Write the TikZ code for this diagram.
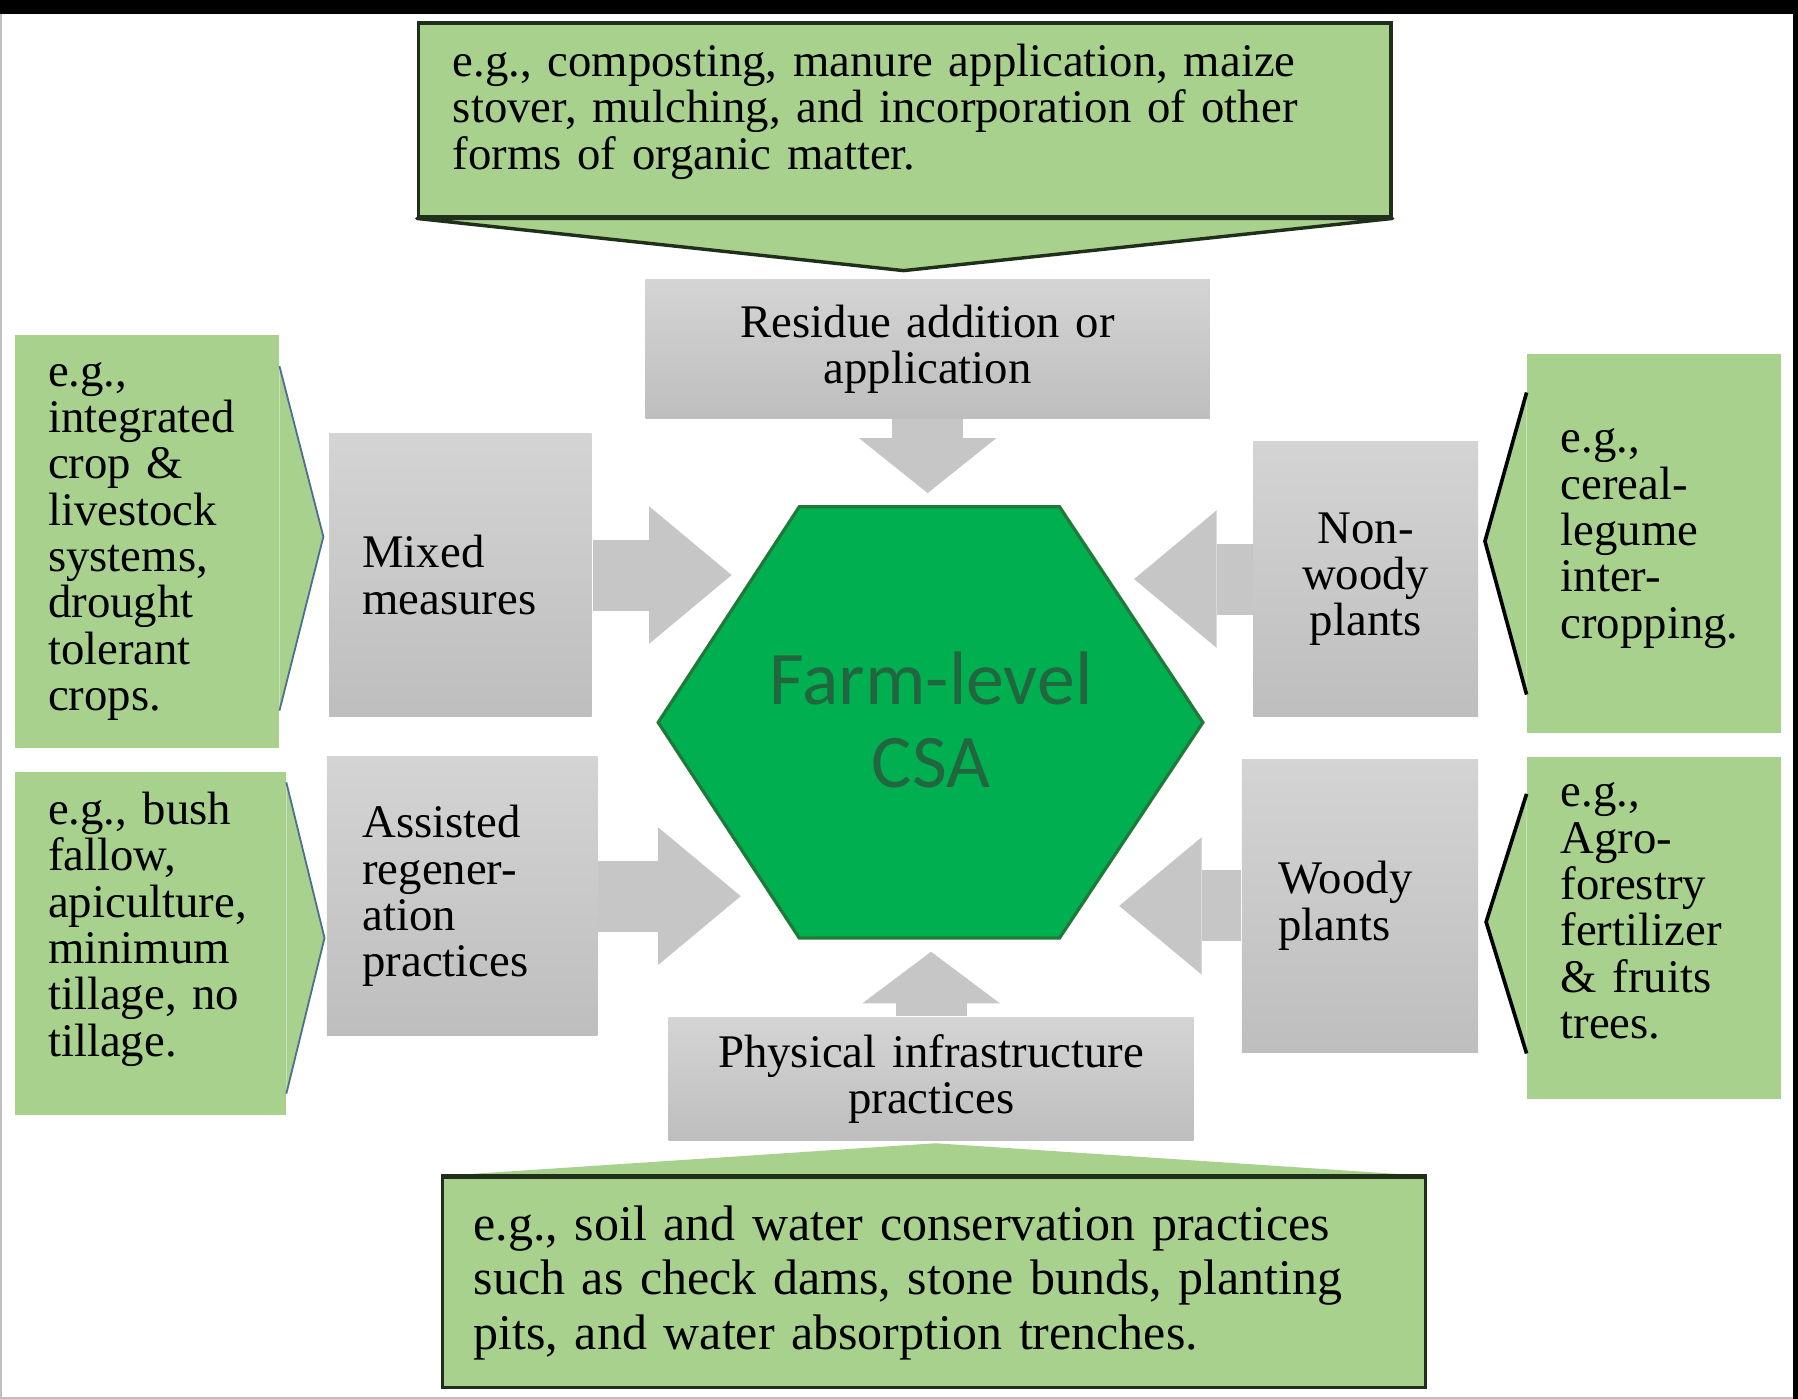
\documentclass[tikz,border=0pt]{standalone}
\usepackage{fontspec}
\setmainfont{Liberation Serif}
\newfontfamily\csafont{Carlito}
\usetikzlibrary{arrows.meta}
\definecolor{notegreen}{HTML}{A9D18E}
\definecolor{noteline}{HTML}{1F2F1A}
\definecolor{pinline}{HTML}{4F6F8F}
\definecolor{boxtop}{HTML}{D4D4D4}
\definecolor{boxbottom}{HTML}{BEBEBE}
\definecolor{arrowgrey}{HTML}{C6C6C6}
\definecolor{csagreen}{HTML}{00B050}
\definecolor{csaedge}{HTML}{1F7A3A}
\definecolor{csatext}{HTML}{22663F}

\tikzset{
  txt/.style={font=\fontsize{11.6}{11.5}\selectfont},
  greybox/.style={rectangle, top color=boxtop, bottom color=boxbottom, inner sep=0pt, txt},
  note/.style={rectangle, fill=notegreen, inner sep=0pt, align=left, txt},
  bigarrow/.style={draw=arrowgrey, line width=0.62cm,
    -{Triangle[length=#1, width=1.2cm, line width=0pt]}},
  bigarrow/.default=0.72cm
}

\begin{document}
\begin{tikzpicture}
  % page frame
  \useasboundingbox (0,0) rectangle (15.68,12.20);
  \fill[white] (0,0) rectangle (15.68,12.20);
  \draw[black!25, line width=0.6pt] (0.01,12.1) -- (0.01,0.01) -- (15.64,0.01);
  \fill[black] (0,12.08) rectangle (15.68,12.20);
  \fill[black] (15.64,0) rectangle (15.68,12.20);

  % centre hexagon
  \filldraw[fill=csagreen, draw=csaedge, line width=0.8pt]
    (5.74,5.90) -- (6.97,7.78) -- (9.24,7.78) -- (10.49,5.90)
    -- (9.24,4.02) -- (6.97,4.02) -- cycle;
  \node[font=\csafont\fontsize{18.8}{20.5}\selectfont, text=csatext, align=center]
    (csa) at (8.12,5.92) {Farm-level\\CSA};

  % practice boxes
  \node[greybox, minimum width=4.92cm, minimum height=1.21cm, text width=4.5cm,
        align=center] (residue) at (8.09,9.155) {Residue addition or\\application};
  \node[greybox, minimum width=2.29cm, minimum height=2.47cm, text width=1.71cm,
        align=left] (mixed) at (4.015,7.185) {Mixed\\measures};
  \node[greybox, minimum width=2.36cm, minimum height=2.43cm, text width=1.74cm,
        align=left] (assisted) at (4.03,4.385) {Assisted\\regener-\\ation\\practices};
  \node[greybox, minimum width=1.96cm, minimum height=2.40cm, text width=1.6cm,
        align=center] (nonwoody) at (11.91,7.15) {Non-\\woody\\plants};
  \node[greybox, minimum width=2.06cm, minimum height=2.56cm, text width=1.42cm,
        align=left] (woody) at (11.86,4.30) {Woody\\plants};
  \node[greybox, minimum width=4.58cm, minimum height=1.08cm, text width=4.2cm,
        align=center] (physical) at (8.12,2.79) {Physical infrastructure\\practices};

  % arrow tips next to the hexagon
  \coordinate (residue tip) at (8.09,7.90);
  \coordinate (mixed tip) at (6.38,7.185);
  \coordinate (assisted tip) at (6.46,4.385);
  \coordinate (nonwoody tip) at (9.89,7.15);
  \coordinate (woody tip) at (9.76,4.30);
  \coordinate (physical tip) at (8.12,3.90);

  \draw[bigarrow=0.48cm] (residue.south) -- (residue tip);
  \draw[bigarrow] (mixed.east) -- (mixed tip);
  \draw[bigarrow] (assisted.east) -- (assisted tip);
  \draw[bigarrow] (nonwoody.west) -- (nonwoody tip);
  \draw[bigarrow] (woody.west) -- (woody tip);
  \draw[bigarrow=0.45cm] (physical.north) -- (physical tip);

  % example callouts
  \node[note, draw=noteline, line width=0.85pt, minimum width=8.48cm,
        minimum height=1.69cm, text width=7.88cm, text depth=29.5pt]
    (topnote) at (7.89,11.155)
    {e.g., composting, manure application, maize\\
     stover, mulching, and incorporation of other\\
     forms of organic matter.};
  \node[note, minimum width=2.30cm, minimum height=3.60cm, text width=1.72cm]
    (note1) at (1.28,7.48)
    {e.g.,\\integrated\\crop \&\\livestock\\systems,\\drought\\tolerant\\crops.};
  \node[note, minimum width=2.36cm, minimum height=2.99cm, text width=1.78cm,
        text depth=67pt] (note2) at (1.31,3.975)
    {e.g., bush\\fallow,\\apiculture,\\minimum\\tillage, no\\tillage.};
  \node[note, minimum width=2.21cm, minimum height=3.30cm, text width=1.63cm,
        text depth=51pt] (note3) at (14.425,7.46)
    {e.g.,\\cereal-\\legume\\inter-\\cropping.};
  \node[note, minimum width=2.21cm, minimum height=2.98cm, text width=1.63cm,
        text depth=66pt] (note4) at (14.425,4.11)
    {e.g.,\\Agro-\\forestry\\fertilizer\\\& fruits\\trees.};
  \node[note, draw=noteline, line width=0.85pt, minimum width=8.57cm,
        minimum height=1.83cm, text width=8.03cm,
        font=\fontsize{12.4}{13.5}\selectfont] (botnote) at (8.145,1.015)
    {e.g., soil and water conservation practices\\
     such as check dams, stone bunds, planting\\
     pits, and water absorption trenches.};

  \coordinate (topnote tip) at (7.88,9.84);
  \coordinate (note1 tip) at (2.82,7.52);
  \coordinate (note2 tip) at (2.83,4.02);
  \coordinate (note3 tip) at (12.95,7.48);
  \coordinate (note4 tip) at (12.96,4.16);
  \coordinate (botnote tip) at (8.16,2.23);

  % callout pointers
  \filldraw[fill=notegreen, draw=noteline, line width=0.85pt, line join=round]
    (topnote.south west) -- (topnote tip) -- (topnote.south east) -- cycle;
  \fill[notegreen] (botnote.north west) -- (botnote tip) -- (botnote.north east) -- cycle;
  \draw[noteline, line width=0.85pt] (botnote.north west) -- (botnote.north east);
  \filldraw[fill=notegreen, draw=pinline, line width=0.45pt]
    ([yshift=-0.28cm]note1.north east) -- (note1 tip) -- ([yshift=0.33cm]note1.south east);
  \filldraw[fill=notegreen, draw=pinline, line width=0.45pt]
    ([yshift=-0.10cm]note2.north east) -- (note2 tip) -- ([yshift=0.19cm]note2.south east);
  \filldraw[fill=notegreen, draw=black, line width=0.9pt]
    ([yshift=-0.34cm]note3.north west) -- (note3 tip) -- ([yshift=0.34cm]note3.south west);
  \filldraw[fill=notegreen, draw=black, line width=0.9pt]
    ([yshift=-0.33cm]note4.north west) -- (note4 tip) -- ([yshift=0.40cm]note4.south west);
\end{tikzpicture}
\end{document}
